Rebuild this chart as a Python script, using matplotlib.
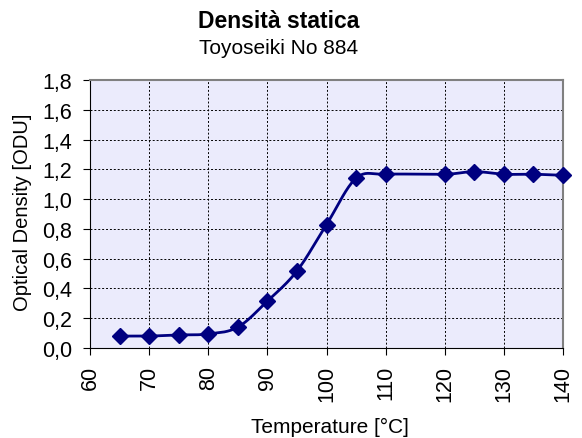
import matplotlib
matplotlib.use('Agg')
import matplotlib.pyplot as plt
from matplotlib.ticker import FuncFormatter
import numpy as np

temperature = [65, 70, 75, 80, 85, 90, 95, 100, 105, 110, 120, 125, 130, 135, 140]
density = [0.08, 0.08, 0.088, 0.094, 0.14, 0.315, 0.517, 0.829, 1.14, 1.167,
           1.167, 1.185, 1.167, 1.167, 1.16]

title = 'Densità statica'
subtitle = 'Toyoseiki No 884'
xlabel = 'Temperature [°C]'
ylabel = 'Optical Density [ODU]'

plt.rcParams['font.family'] = ['Liberation Sans', 'DejaVu Sans']


def smooth(x, y, n=20):
    # Catmull-Rom style smoothing, like Excel's "smoothed line"
    x = np.asarray(x, float)
    y = np.asarray(y, float)
    px = np.concatenate([[2 * x[0] - x[1]], x, [2 * x[-1] - x[-2]]])
    py = np.concatenate([[2 * y[0] - y[1]], y, [2 * y[-1] - y[-2]]])
    xs, ys = [], []
    t = np.linspace(0, 1, n, endpoint=False)
    for i in range(1, len(px) - 2):
        for arr, out in ((px, xs), (py, ys)):
            p0, p1, p2, p3 = arr[i - 1], arr[i], arr[i + 1], arr[i + 2]
            m1 = (p2 - p0) / 6.0
            m2 = (p3 - p1) / 6.0
            c1 = p1 + m1
            c2 = p2 - m2
            out.extend((1 - t) ** 3 * p1 + 3 * (1 - t) ** 2 * t * c1
                       + 3 * (1 - t) * t ** 2 * c2 + t ** 3 * p2)
    xs.append(x[-1])
    ys.append(y[-1])
    return np.array(xs), np.array(ys)


fig = plt.figure(figsize=(5.82, 4.39), dpi=100)
ax = fig.add_axes([90 / 582, 1 - 349 / 439, (563 - 90) / 582, (349 - 81) / 439])
ax.set_facecolor('#EBEBFC')

sx, sy = smooth(temperature, density)
ax.plot(sx, sy, color='#000080', lw=2, zorder=3)
ax.plot(temperature, density, ls='none', marker='D', ms=8, color='#000080', zorder=4,
        clip_on=False)

ax.set_xlim(60, 140)
ax.set_ylim(0, 1.8)
ax.set_xticks(np.arange(60, 141, 10))
ax.set_yticks(np.arange(0, 1.81, 0.2))
ax.yaxis.set_major_formatter(FuncFormatter(lambda v, p: ('%.1f' % v).replace('.', ',')))
ax.tick_params(axis='x', labelrotation=90, labelsize=15.5, length=5, direction='out', pad=7)
ax.tick_params(axis='y', labelsize=15.5, length=5, direction='out', pad=8)
ax.grid(True, color='black', ls=(0, (2, 2)), lw=0.7)
ax.set_axisbelow(True)

for s in ['top', 'right']:
    ax.spines[s].set_color('#808080')
    ax.spines[s].set_linewidth(1.5)
for s in ['left', 'bottom']:
    ax.spines[s].set_color('black')

fig.text(279 / 582, 1 - 21 / 439, title, ha='center', va='center', fontsize=16.5, fontweight='bold')
fig.text(279 / 582, 1 - 49 / 439, subtitle, ha='center', va='center', fontsize=15)
fig.text(330 / 582, 1 - 427 / 439, xlabel, ha='center', va='center', fontsize=15)
fig.text(23 / 582, 1 - 212 / 439, ylabel, ha='center', va='center', fontsize=14.5, rotation=90)

fig.savefig('out.png', dpi=100)
